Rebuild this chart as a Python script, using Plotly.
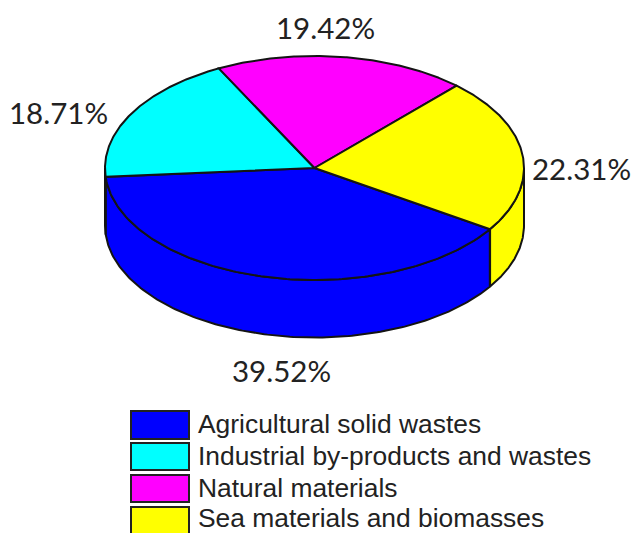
import numpy as np
import plotly.graph_objects as go

categories = ["Agricultural solid wastes", "Industrial by-products and wastes",
              "Natural materials", "Sea materials and biomasses"]
shares = [39.52, 18.71, 19.42, 22.31]
colors = ["#0000ff", "#00ffff", "#ff00ff", "#ffff00"]

W, H = 634, 533
CX, CY, A, B, DEPTH = 314.5, 168.0, 209.5, 112.0, 57.5
START_DEG = 33.2
EDGE = dict(color="#141414", width=2)


def arc(t0, t1, dy=0.0):
    t = np.radians(np.linspace(t0, t1, 160))
    return CX + A * np.cos(t), CY + dy + B * np.sin(t)


fig = go.Figure()
angles = START_DEG + np.concatenate([[0], np.cumsum(shares)]) * 3.6
spans = [(angles[i], angles[i + 1], colors[i], categories[i]) for i in range(len(shares))]

# side walls: only the front half of the ellipse (screen angles 0..180) is visible
for t0, t1, col, name in spans:
    for shift in (0, -360):
        a0, a1 = max(t0 + shift, 0), min(t1 + shift, 180)
        if a1 <= a0:
            continue
        xt, yt = arc(a0, a1)
        xb, yb = arc(a1, a0, DEPTH)
        fig.add_trace(go.Scatter(x=np.r_[xt, xb, xt[0]], y=np.r_[yt, yb, yt[0]], mode="lines",
                                 fill="toself", fillcolor=col, line=EDGE, name=name,
                                 showlegend=False, hoverinfo="skip"))

# top faces
for t0, t1, col, name in spans:
    xa, ya = arc(t0, t1)
    fig.add_trace(go.Scatter(x=np.r_[CX, xa, CX], y=np.r_[CY, ya, CY], mode="lines",
                             fill="toself", fillcolor=col, line=EDGE, name=name,
                             showlegend=False))

label_pos = [(281, 370), (58.5, 112.5), (325.5, 27.5), (581.5, 168.5)]
for val, (x, y) in zip(shares, label_pos):
    fig.add_annotation(x=x, y=y, text=f"{val:.2f}%", showarrow=False, xref="x", yref="y",
                       font=dict(family="Lato", size=29.5, color="#222222"))

legend_rows = [(411, 439), (443, 470), (475, 502), (507, 540)]
legend_text_y = [424, 456, 488, 517.5]
for name, col, (y0, y1), ty in zip(categories, colors, legend_rows, legend_text_y):
    fig.add_shape(type="rect", x0=131, x1=189, y0=y0, y1=y1, fillcolor=col,
                  line=dict(color="#222222", width=2), xref="x", yref="y")
    fig.add_annotation(x=197, y=ty, text=name, borderpad=0,
                       showarrow=False, xanchor="left", xref="x", yref="y",
                       font=dict(family="Liberation Sans", size=26.4, color="#222222"))

fig.update_layout(width=W, height=H, margin=dict(l=0, r=0, t=0, b=0), showlegend=False,
                  plot_bgcolor="white", paper_bgcolor="white",
                  xaxis=dict(range=[0, W], visible=False, fixedrange=True),
                  yaxis=dict(range=[H, 0], visible=False, fixedrange=True))
fig.write_html("out.html", config={"displayModeBar": False},
               post_script="document.body.style.margin='0';document.documentElement.style.overflow='hidden';")
